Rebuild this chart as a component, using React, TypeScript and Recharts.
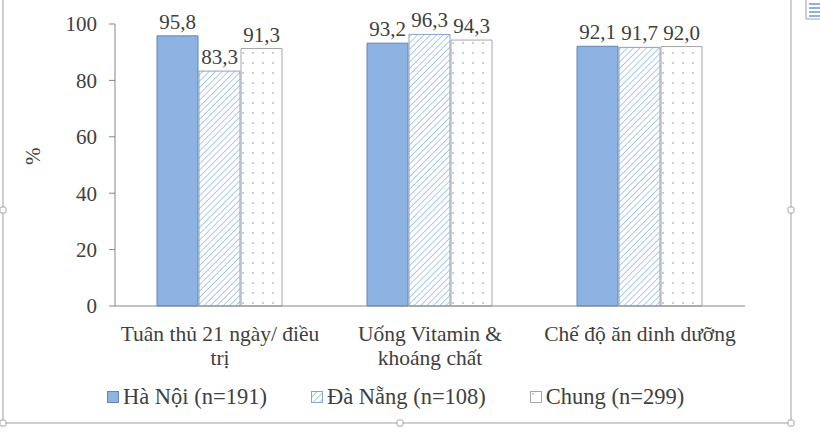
import React from "react"
import { Bar, BarChart, LabelList, Legend, XAxis, YAxis } from "recharts"

const categories = ["Tuân thủ 21 ngày/ điều\ntrị", "Uống Vitamin &\nkhoáng chất", "Chế độ ăn dinh dưỡng"]
const haNoi = [95.8, 93.2, 92.1]
const daNang = [83.3, 96.3, 91.7]
const chung = [91.3, 94.3, 92.0]
const seriesNames = ["Hà Nội (n=191)", "Đà Nẵng (n=108)", "Chung (n=299)"]
const yTicks = [0, 20, 40, 60, 80, 100]

const chartData = categories.map((name, i) => ({
  name,
  haNoi: haNoi[i],
  daNang: daNang[i],
  chung: chung[i],
}))

const FONT = '"Liberation Serif", "Times New Roman", serif'
const FS = 21
const TEXT = "#404040"
const AXIS = "#868686"

const fills = ["#8db3e2", "url(#hatch)", "url(#dots)"]
const strokes = ["#6585b8", "#8aa3c8", "#a6a6a6"]
const keys = ["haNoi", "daNang", "chung"]

const fmt = (v: number) => v.toFixed(1).replace(".", ",")

function CategoryTick({ x, y, payload }: any) {
  const lines = String(payload.value).split("\n")
  return (
    <text x={x} y={y} textAnchor="middle" fill={TEXT} fontSize={21.5} style={{ fontFamily: FONT }}>
      {lines.map((line, i) => (
        <tspan key={i} x={x} dy={i === 0 ? 27 : 24}>
          {line}
        </tspan>
      ))}
    </text>
  )
}

function LegendBox() {
  return (
    <div style={{ display: "flex", fontFamily: FONT, fontSize: 22.5, color: TEXT, lineHeight: "24px" }}>
      {seriesNames.map((name, i) => (
        <div key={name} style={{ display: "flex", alignItems: "center", marginRight: i < 2 ? 44 : 0 }}>
          <svg width={12} height={12} style={{ marginRight: 4 }}>
            <rect x={0.5} y={0.5} width={11} height={11} fill={fills[i]} stroke={strokes[i]} />
          </svg>
          <span>{name}</span>
        </div>
      ))}
    </div>
  )
}

function Frame() {
  const c = "#a0a0a0"
  const handle = (x: number, y: number) => (
    <rect x={x - 3} y={y - 3} width={6} height={6} rx={1.5} fill="#fff" stroke={c} />
  )
  return (
    <svg width={820} height={437} style={{ position: "absolute", left: 0, top: 0, pointerEvents: "none" }}>
      <line x1={3} y1={0} x2={3} y2={423} stroke={c} />
      <line x1={791} y1={0} x2={791} y2={423} stroke={c} />
      <line x1={3} y1={423} x2={791} y2={423} stroke={c} />
      {handle(3, 210)}
      {handle(791, 210)}
      {handle(3, 423)}
      {handle(400, 423)}
      {handle(791, 423)}
      <rect x={806} y={-1} width={16} height={20} fill="#fff" stroke={c} />
      {[4, 8, 12, 16].map((yy) => (
        <line key={yy} x1={809} y1={yy} x2={820} y2={yy} stroke="#4a7fc0" strokeWidth={1.2} />
      ))}
    </svg>
  )
}

export default function App() {
  return (
    <div style={{ position: "fixed", left: 0, top: 0, width: 820, height: 437, background: "#fff" }}>
      <BarChart
        width={820}
        height={437}
        data={chartData}
        margin={{ top: 24, right: 75, left: 55, bottom: 47 }}
        barCategoryGap="20%"
        barGap={1}
        style={{ fontFamily: FONT }}
      >
        <defs>
          <pattern id="hatch" patternUnits="userSpaceOnUse" width={4.5} height={4.5} patternTransform="rotate(45)">
            <rect width={4.5} height={4.5} fill="#fff" />
            <line x1={0} y1={0} x2={0} y2={4.5} stroke="#8db3e2" strokeWidth={1.4} />
          </pattern>
          <pattern id="dots" patternUnits="userSpaceOnUse" width={10} height={10}>
            <rect width={10} height={10} fill="#fff" />
            <circle cx={3} cy={3} r={0.8} fill="#8f8f8f" />
          </pattern>
        </defs>
        <XAxis
          dataKey="name"
          axisLine={{ stroke: AXIS }}
          tickLine={false}
          tick={<CategoryTick />}
          height={60}
          interval={0}
        />
        <YAxis
          domain={[0, 100]}
          ticks={yTicks}
          width={60}
          axisLine={{ stroke: AXIS }}
          tickLine={{ stroke: AXIS }}
          tickSize={6}
          tickMargin={12}
          tick={{ fill: TEXT, fontSize: FS, fontFamily: FONT }}
          label={{ value: "%", angle: -90, position: "insideLeft", offset: -22, fill: TEXT, fontSize: FS, fontFamily: FONT }}
        />
        <Legend
          verticalAlign="bottom"
          content={<LegendBox />}
          wrapperStyle={{ left: 107, bottom: 28, width: "auto" }}
        />
        {keys.map((k, i) => (
          <Bar key={k} dataKey={k} name={seriesNames[i]} fill={fills[i]} stroke={strokes[i]} strokeWidth={1} isAnimationActive={false}>
            <LabelList dataKey={k} position="top" offset={7} formatter={(v: any) => fmt(Number(v))} fill={TEXT} fontSize={FS} fontFamily={FONT} />
          </Bar>
        ))}
      </BarChart>
      <Frame />
    </div>
  )
}
